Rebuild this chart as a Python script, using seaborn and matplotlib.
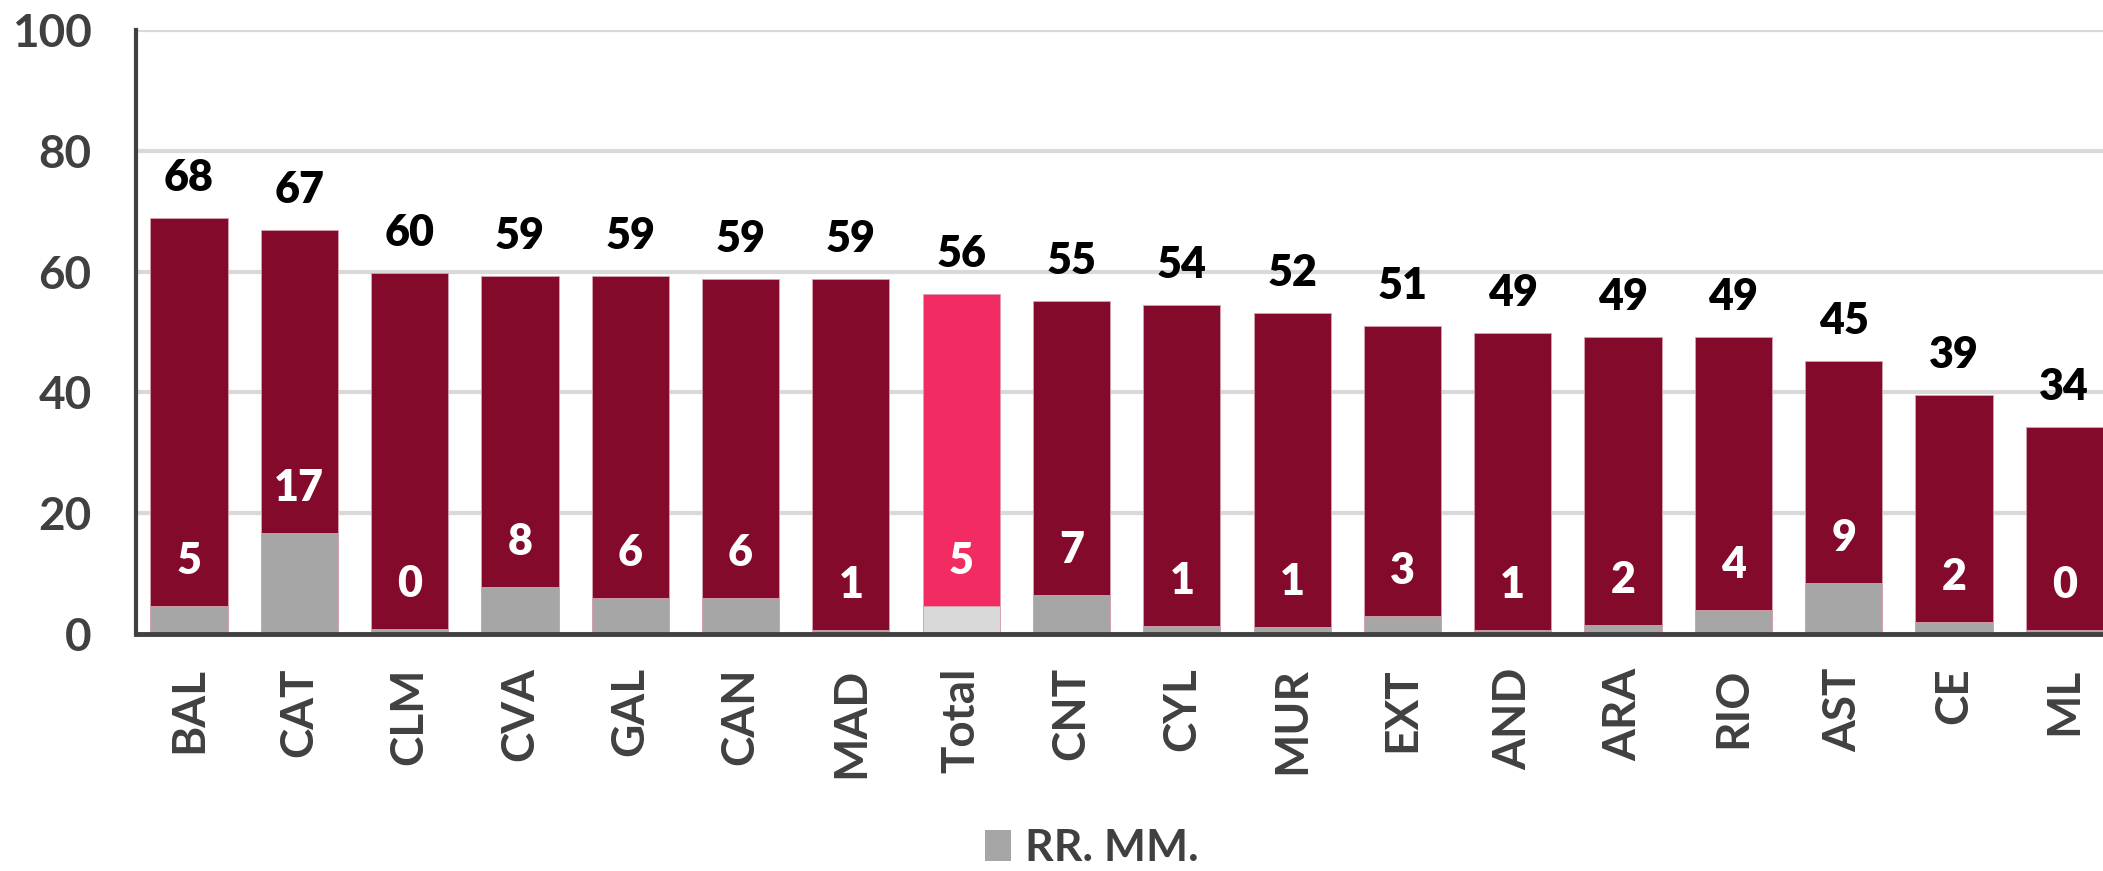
import matplotlib
matplotlib.use("Agg")
import matplotlib.pyplot as plt
from matplotlib.patches import Patch
import seaborn as sns
import pandas as pd

# regions, ordered as in the chart
regiones = ["BAL", "CAT", "CLM", "CVA", "GAL", "CAN", "MAD", "Total", "CNT",
            "CYL", "MUR", "EXT", "AND", "ARA", "RIO", "AST", "CE", "ML"]
# bar heights (total / RR. MM. part)
total = [68.8, 66.9, 59.8, 59.2, 59.2, 58.7, 58.8, 56.3, 55.1,
         54.4, 53.1, 51.0, 49.8, 49.2, 49.2, 45.2, 39.5, 34.3]
rr_mm = [4.7, 16.8, 0.8, 7.8, 5.9, 6.0, 0.7, 4.6, 6.5,
         1.4, 1.1, 2.9, 0.7, 1.45, 4.0, 8.5, 2.0, 0.7]
# printed labels
total_lbl = [68, 67, 60, 59, 59, 59, 59, 56, 55, 54, 52, 51, 49, 49, 49, 45, 39, 34]
rr_lbl = [5, 17, 0, 8, 6, 6, 1, 5, 7, 1, 1, 3, 1, 2, 4, 9, 2, 0]

ROJO = "#840A2C"
ROSA = "#F22C63"
GRIS = "#A6A6A6"
GRIS_CLARO = "#D9D9D9"
TXT = "#404040"

df = pd.DataFrame({"region": regiones, "total": total, "rr": rr_mm})

sns.set_style("white")
plt.rcParams["font.family"] = ["Lato", "DejaVu Sans"]
plt.rcParams["font.weight"] = "bold"

fig = plt.figure(figsize=(21.03, 8.71), dpi=100)
ax = fig.add_axes([136 / 2103, 1 - 634 / 871, 1 - 136 / 2103, 604 / 871])

pal_top = {r: (ROSA if r == "Total" else ROJO) for r in regiones}
pal_low = {r: (GRIS_CLARO if r == "Total" else GRIS) for r in regiones}

sns.barplot(data=df, x="region", y="total", hue="region", palette=pal_top,
            saturation=1, width=0.7, legend=False, ax=ax,
            edgecolor="#D8A0B0", linewidth=0.6, zorder=2)
sns.barplot(data=df, x="region", y="rr", hue="region", palette=pal_low,
            saturation=1, width=0.7, legend=False, ax=ax,
            edgecolor="#D8A0B0", linewidth=0.6, zorder=3)

# value labels
for i in range(len(regiones)):
    ax.annotate(str(total_lbl[i]), (i, total[i]), xytext=(0, 27),
                textcoords="offset pixels", ha="center", va="baseline",
                fontsize=31, fontweight="heavy", color="black")
    ax.annotate(str(rr_lbl[i]), (i, rr_mm[i]), xytext=(0, 32),
                textcoords="offset pixels", ha="center", va="baseline",
                fontsize=31, fontweight="heavy", color="white", zorder=5)

ax.set_ylim(0, 100)
ax.set_xlim(-0.48, 17.35)
ax.set_yticks([0, 20, 40, 60, 80, 100])
ax.yaxis.grid(True, color=GRIS_CLARO, linewidth=3)
ax.set_axisbelow(True)
ax.set_xlabel("")
ax.set_ylabel("")

for s in ["top", "right"]:
    ax.spines[s].set_visible(False)
ax.spines["left"].set_color(TXT)
ax.spines["left"].set_linewidth(3)
ax.spines["bottom"].set_color(TXT)
ax.spines["bottom"].set_linewidth(3.5)
ax.spines["bottom"].set_zorder(4)

ax.tick_params(axis="y", length=0, pad=32, labelsize=33, labelcolor=TXT)
ax.tick_params(axis="x", length=0, pad=24, labelsize=33, labelcolor=TXT,
               labelrotation=90)
for t in ax.get_xticklabels() + ax.get_yticklabels():
    t.set_fontweight("bold")

fig.legend(handles=[Patch(facecolor=GRIS, edgecolor="none", label="RR. MM.")],
           loc="upper center", bbox_to_anchor=(0.519, 1 - 806 / 871),
           frameon=False, prop={"weight": "bold", "size": 32},
           handlelength=0.6, handleheight=0.7, handletextpad=0.3,
           borderpad=0, labelcolor=TXT)

fig.savefig("out.png", dpi=100)
